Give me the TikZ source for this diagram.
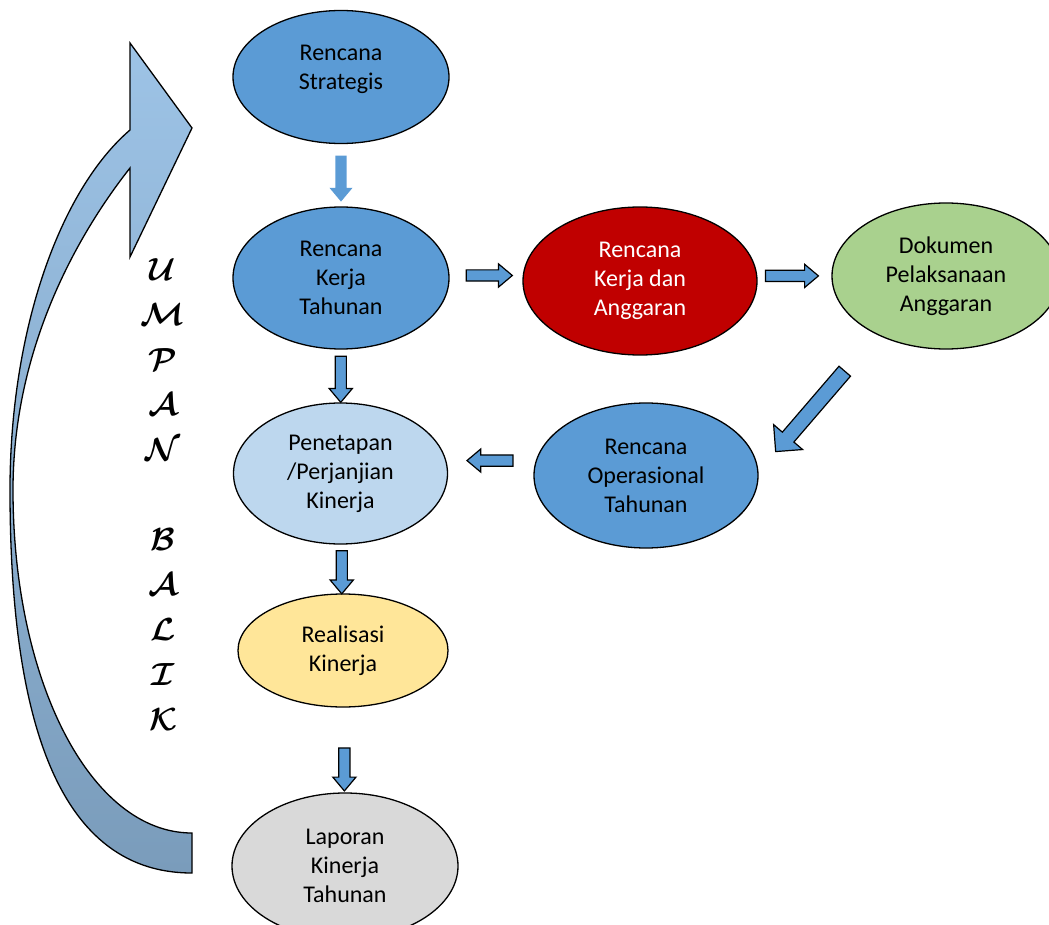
\documentclass[tikz,border=0pt]{standalone}
\usepackage{fontspec}
\setmainfont{Carlito}
\usetikzlibrary{shapes.geometric,shapes.arrows}
\definecolor{midblue}{HTML}{5B9BD5}
\definecolor{lightblue}{HTML}{BDD7EE}
\definecolor{darkred}{HTML}{C00000}
\definecolor{softgreen}{HTML}{A9D18E}
\definecolor{softyellow}{HTML}{FFE699}
\definecolor{softgray}{HTML}{D9D9D9}
\definecolor{loopup}{HTML}{9DC3E6}
\definecolor{loopdown}{HTML}{7A9CBB}

\begin{document}
\begin{tikzpicture}[x=1pt,y=-1pt,
  plan/.style={ellipse,draw,line width=1.3pt,inner sep=0pt,align=center,
    font=\fontsize{24}{29}\selectfont},
  flow/.style={single arrow,draw,line width=1.2pt,fill=midblue,inner sep=5pt,
    minimum width=22pt,single arrow head extend=6pt,single arrow tip angle=80},
  letter/.style={font=\boldmath,scale=3.2,transform shape}]

\useasboundingbox (0,0) rectangle (1049,925);
\clip (0,0) rectangle (1049,925);

% umpan balik
\draw[line width=1.3pt,top color=loopup,bottom color=loopdown]
  (192,873) .. controls (50,873) and (10,700) .. (10,490)
  .. controls (10,330) and (60,190) .. (130,130)
  -- (130,43) -- (192,128) -- (130,257) -- (130,168)
  .. controls (85,225) and (13,340) .. (13,490)
  .. controls (13,680) and (90,833) .. (192,833) -- cycle;

\foreach \ch/\row in {U/0,M/1,P/2,A/3,N/4,B/6,A/7,L/8,I/9,K/10}
  \node[letter] (l\row) at (163,270+45*\row) {$\mathcal{\ch}$};

\node[plan,fill=midblue,minimum width=216pt,minimum height=133pt] (strat) at (341,77) {};
\node[align=center,font=\fontsize{24}{29}\selectfont] (strattext) at ([yshift=8pt]strat.center) {Rencana\\Strategis};
\node[plan,fill=midblue,minimum width=216pt,minimum height=142pt] (rkt) at (341,278) {Rencana\\Kerja\\Tahunan};
\node[plan,fill=darkred,text=white,minimum width=234pt,minimum height=148pt] (rka) at (640,281) {Rencana\\Kerja dan\\Anggaran};
\node[plan,fill=softgreen,minimum width=228pt,minimum height=146pt] (dpa) at (946,276) {Dokumen\\Pelaksanaan\\Anggaran};
\node[plan,fill=midblue,minimum width=224pt,minimum height=145pt] (rot) at (646,475.5) {Rencana\\Operasional\\Tahunan};
\node[plan,fill=lightblue,minimum width=214pt,minimum height=141pt] (pen) at (340.5,473.5) {Penetapan\\/Perjanjian\\Kinerja};
\node[plan,fill=softyellow,minimum width=210pt,minimum height=113pt] (real) at (343,650.5) {Realisasi\\Kinerja};
\node[plan,fill=softgray,minimum width=226pt,minimum height=146pt] (lap) at (345,866) {Laporan\\Kinerja\\Tahunan};

\path (strat.south) -- (rkt.north) node[midway,flow,draw=none,shape border rotate=270,minimum height=46pt] (a1) {};
\path (rkt.east) -- (rka.west) node[pos=0.5,yshift=4pt,flow,minimum height=46pt] (a2) {};
\path (rka.east) -- (dpa.west) node[pos=0.42,yshift=3pt,flow,minimum height=53pt] (a3) {};
\path (dpa.220) -- (rot.2) node[pos=0.54,sloped,allow upside down,flow,minimum height=106pt,inner sep=7pt,
  minimum width=37pt,single arrow head extend=11.5pt,single arrow tip angle=90] (a4) {};
\path (rot.west) -- (pen.east) node[pos=0.47,yshift=14pt,flow,shape border rotate=180,minimum height=46pt] (a5) {};
\path (rkt.south) -- (pen.north) node[midway,flow,shape border rotate=270,minimum height=46pt] (a6) {};
\path (pen.south) -- (real.north) node[midway,flow,shape border rotate=270,minimum height=43pt] (a7) {};
\path (real.south) -- (lap.north) node[pos=0.69,flow,shape border rotate=270,minimum height=43pt] (a8) {};
\end{tikzpicture}
\end{document}
